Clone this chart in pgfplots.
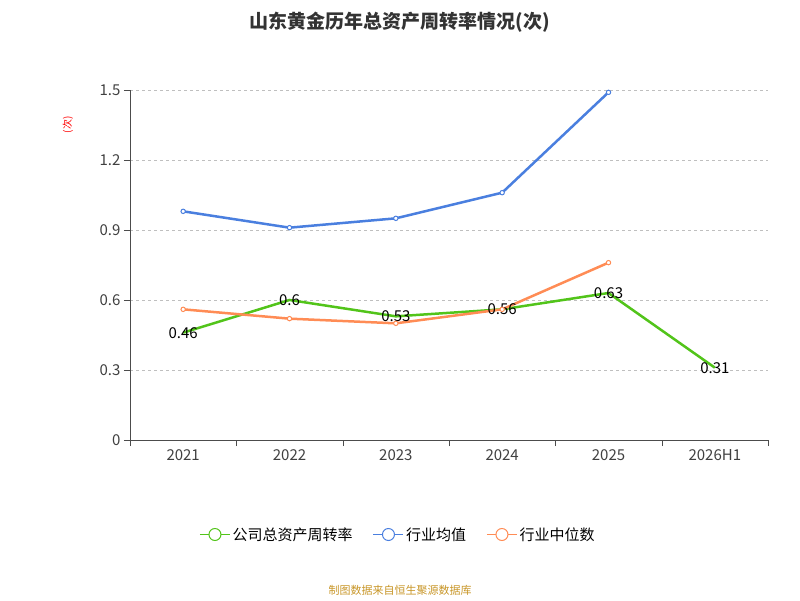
\documentclass[border=0pt]{standalone}
\usepackage{pgfplots}
\pgfplotsset{compat=1.18}
\usepackage{fontspec}
\setmainfont{Noto Sans CJK SC}
\definecolor{cg}{HTML}{52C41A}
\definecolor{cb}{HTML}{4A7FDF}
\definecolor{co}{HTML}{FF8C55}
\begin{document}
\begin{tikzpicture}
\path[use as bounding box] (0pt,0pt) rectangle (800pt,600pt);
\node[font=\bfseries\fontsize{19}{22}\selectfont,text=black!80] at (400pt,578pt) {山东黄金历年总资产周转率情况(次)};
\node[rotate=90,text=red,font=\fontsize{10}{12}\selectfont] at (68pt,475pt) {(次)};
\node[text={rgb,255:red,200;green,150;blue,40},font=\fontsize{11}{13}\selectfont] at (400pt,10pt) {制图数据来自恒生聚源数据库};
\begin{axis}[at={(130pt,160pt)},anchor=south west,scale only axis,width=638pt,height=350pt,
 xmin=-0.5,xmax=5.5,ymin=0,ymax=1.5,
 xtick={0,...,5},xticklabels={2021,2022,2023,2024,2025,2026H1},
 minor xtick={-0.5,0.5,...,5.5},
 ytick={0,0.3,0.6,0.9,1.2,1.5},yticklabels={0,0.3,0.6,0.9,1.2,1.5},
 axis y line*=left, axis x line*=bottom,
 x axis line style={-,black!70},y axis line style={-,black!70},
 tick style={black!70},major x tick style={draw=none},
 minor tick length=6pt,major tick length=6pt,tick align=outside,
 ymajorgrids,grid style={dashed,black!25},
 ticklabel style={font=\fontsize{15}{18}\selectfont,text=black!75},
 legend style={at={(0.42,-0.27)},anchor=center,draw=none,legend columns=3,font=\fontsize{15}{18}\selectfont,/tikz/every even column/.append style={column sep=18pt}},
 legend image code/.code={\draw[#1,line width=1.5pt](0pt,0pt)--(30pt,0pt);\draw[#1,fill=white,line width=1pt](15pt,0pt) circle (6pt);},
]
\addplot[cg,line width=2.5pt,mark=none,nodes near coords,point meta=explicit symbolic,every node near coord/.append style={anchor=center,text=black,font=\fontsize{15}{18}\selectfont}] coordinates {(0,0.46)[0.46] (1,0.6)[0.6] (2,0.53)[0.53] (3,0.56)[0.56] (4,0.63)[0.63] (5,0.31)[0.31]};
\addlegendentry{公司总资产周转率}
\addplot[cb,line width=2.5pt,mark=*,mark options={fill=white,line width=1pt,scale=1.1}] coordinates {(0,0.98)(1,0.91)(2,0.95)(3,1.06)(4,1.49)};
\addlegendentry{行业均值}
\addplot[co,line width=2.5pt,mark=*,mark options={fill=white,line width=1pt,scale=1.1}] coordinates {(0,0.56)(1,0.52)(2,0.50)(3,0.56)(4,0.76)};
\addlegendentry{行业中位数}
\end{axis}
\end{tikzpicture}
\end{document}
